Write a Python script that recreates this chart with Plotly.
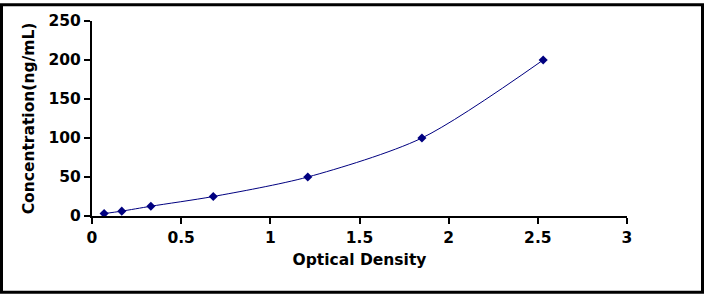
import plotly.graph_objects as go

od = [0.068, 0.167, 0.33, 0.68, 1.21, 1.85, 2.53]
conc = [3.12, 6.25, 12.5, 25, 50, 100, 200]
x_ticks = [0, 0.5, 1, 1.5, 2, 2.5, 3]
x_labels = ["0", "0.5", "1", "1.5", "2", "2.5", "3"]
y_ticks = [0, 50, 100, 150, 200, 250]
y_labels = ["0", "50", "100", "150", "200", "250"]

W, H = 705, 296
L, R, T, B = 92, 78, 18, 80

fig = go.Figure()
fig.add_trace(go.Scatter(
    x=od, y=conc, mode="lines+markers",
    line=dict(color="#000080", width=1, shape="spline", smoothing=0.8),
    marker=dict(symbol="diamond", size=7, color="#000080"),
    showlegend=False, hoverinfo="x+y",
))

font = dict(family="DejaVu Sans, sans-serif", size=15.5, color="black", weight="bold")
fig.update_layout(
    width=W, height=H,
    margin=dict(l=L, r=R, t=T, b=B, pad=0),
    paper_bgcolor="white", plot_bgcolor="white",
    font=font,
    xaxis=dict(
        range=[0, 3], tickvals=x_ticks, ticktext=x_labels,
        showline=True, linecolor="black", linewidth=2,
        ticks="outside", ticklen=6, tickwidth=2, tickcolor="black",
        showgrid=False, zeroline=False, tickfont=font,
        title=dict(text="Optical Density", font=font, standoff=9),
    ),
    yaxis=dict(
        range=[0, 250], tickvals=y_ticks, ticktext=y_labels,
        showline=True, linecolor="black", linewidth=2,
        ticks="outside", ticklen=6, tickwidth=2, tickcolor="black",
        showgrid=False, zeroline=False, tickfont=font,
        title=dict(text="Concentration(ng/mL)", font=font, standoff=10),
    ),
)

pw = W - L - R
ph = H - T - B
fig.add_shape(
    type="rect", xref="paper", yref="paper",
    x0=(1.5 - L) / pw, x1=(W - 2.5 - L) / pw,
    y0=-(B - 2.5) / ph, y1=(H - 1.5 - B) / ph,
    line=dict(color="black", width=3), fillcolor="rgba(0,0,0,0)", layer="above",
)

fig.write_html("out.html")
